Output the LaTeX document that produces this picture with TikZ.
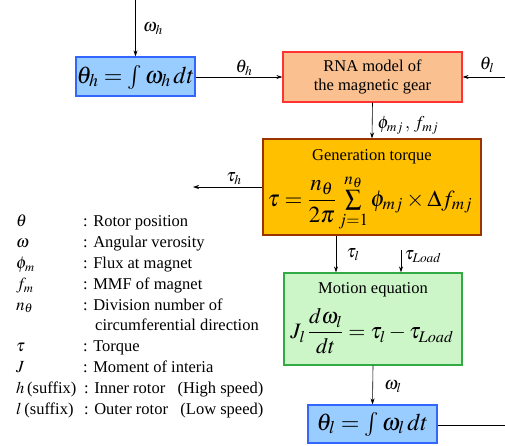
\documentclass[tikz,border=0pt]{standalone}
\usepackage{amsmath}
\usepackage{mathptmx}
\usepackage[no-math]{fontspec}
\setmainfont{Liberation Serif}
\newfontfamily\lserif{Liberation Serif}
\usetikzlibrary{arrows.meta}
\definecolor{bluefill}{HTML}{99CCFF}
\definecolor{blueline}{HTML}{3366FF}
\definecolor{rnafill}{HTML}{FAC090}
\definecolor{rnaline}{HTML}{FF3333}
\definecolor{genfill}{HTML}{FFC000}
\definecolor{genline}{HTML}{993300}
\definecolor{motfill}{HTML}{CCF5C8}
\definecolor{motline}{HTML}{33AA44}
\tikzset{
  box/.style={draw, line width=1.2pt, inner sep=0pt},
  arr/.style={-{Stealth[length=6pt,width=4pt]}, line width=0.6pt},
  plain/.style={line width=0.6pt},
  lbl/.style={inner sep=0pt, font=\fontsize{18}{21}\selectfont},
  txt/.style={inner sep=0pt, font=\lserif\fontsize{16.5}{19}\selectfont, align=center},
  leg/.style={inner sep=0pt, anchor=base west, font=\lserif\fontsize{16.5}{19}\selectfont},
  legm/.style={inner sep=0pt, anchor=base west, font=\lserif\fontsize{17}{19}\selectfont},
}
\begin{document}
\begin{tikzpicture}[x=1pt,y=-1pt]
\useasboundingbox[fill=white] (0,0) rectangle (505,445);
% boxes
\node[box, fill=bluefill, draw=blueline, minimum width=119pt, minimum height=39pt] (blueh) at (135.5,76.5) {};
\node[box, fill=rnafill, draw=rnaline, minimum width=179pt, minimum height=50pt] (rna) at (372.5,77) {};
\node[box, fill=genfill, draw=genline, minimum width=218pt, minimum height=96pt] (gen) at (372,187) {};
\node[box, fill=motfill, draw=motline, minimum width=178pt, minimum height=92pt] (mot) at (373,319) {};
\node[box, fill=bluefill, draw=blueline, minimum width=129pt, minimum height=38pt] (bluel) at (372.5,424) {};
% box contents
\node[inner sep=0pt, font=\fontsize{24}{28}\selectfont] (eqh) at (135.5,77) {$\theta_h = \int \omega_h\,dt$};
\node[txt] (rnatxt) at (372.5,77) {RNA model of\\the magnetic gear};
\node[txt] (gentitle) at (372,157) {Generation torque};
\node[inner sep=0pt, font=\fontsize{23}{27}\selectfont] (geneq) at (370,203) {$\tau = \dfrac{n_\theta}{2\pi}\sum\limits_{j=1}^{n_\theta}\phi_{mj}\times\Delta f_{mj}$};
\node[txt] (mottitle) at (373,290) {Motion equation};
\node[inner sep=0pt, font=\fontsize{22}{26}\selectfont] (moteq) at (372,331) {$J_l\,\dfrac{d\omega_l}{dt} = \tau_l - \tau_{Load}$};
\node[inner sep=0pt, font=\fontsize{24}{28}\selectfont] (eql) at (372.5,424) {$\theta_l = \int \omega_l\,dt$};
% connectors
\coordinate (wtop) at (135.5,0);
\coordinate (thr) at (505,77);
\coordinate (tauhend) at (193,187);
\coordinate (tlx) at (336,0);
\coordinate (tload) at (401,250);
\coordinate (outr) at (505,425);
\draw[arr] (wtop) -- (blueh.north);
\draw[arr] (blueh.east |- rna.west) -- (rna.west);
\draw[arr] (thr) -- (rna.east);
\draw[arr] (rna.south) -- (gen.north);
\draw[arr] (gen.west |- tauhend) -- (tauhend);
\draw[arr] (gen.south -| tlx) -- (mot.north -| tlx);
\draw[arr] (tload) -- (mot.north -| tload);
\draw[arr] (mot.south) -- (bluel.north);
\draw[plain] (bluel.east |- outr) -- (outr);
% labels
\node[lbl] (lwh) at (153,29) {$\omega_h$};
\node[lbl] (lth) at (244,68) {$\theta_h$};
\node[lbl] (ltl) at (487,65) {$\theta_l$};
\node[lbl] (lphi) at (408,125) {$\phi_{mj}\,,\,f_{mj}$};
\node[lbl] (ltauh) at (234,179) {$\tau_h$};
\node[lbl] (ltaul) at (353,255) {$\tau_l$};
\node[lbl] (ltload) at (423,257) {$\tau_{Load}$};
\node[lbl] (lwl) at (393,387) {$\omega_l$};
% legend
\node[legm] (s1) at (16,226.5) {$\theta$};
\node[leg] (d1) at (83,226.5) {: Rotor position};
\node[legm] (s2) at (16,247.5) {$\omega$};
\node[leg] (d2) at (83,247.5) {: Angular verosity};
\node[legm] (s3) at (16,268.5) {$\phi_m$};
\node[leg] (d3) at (83,268.5) {: Flux at magnet};
\node[legm] (s4) at (16,289.5) {$f_m$};
\node[leg] (d4) at (83,289.5) {: MMF of magnet};
\node[legm] (s5) at (16,310) {$n_\theta$};
\node[leg] (d5) at (83,310) {: Division number of};
\node[leg] (d5b) at (95,330.5) {circumferential direction};
\node[legm] (s6) at (16,351.5) {$\tau$};
\node[leg] (d6) at (83,351.5) {: Torque};
\node[legm] (s7) at (16,372.5) {$J$};
\node[leg] (d7) at (83,372.5) {: Moment of interia};
\node[leg] (s8) at (16,393.5) {$h$\,(suffix)};
\node[leg] (d8) at (84,393.5) {: Inner rotor \ \ (High speed)};
\node[leg] (s9) at (16,414.5) {$l$\,(suffix)};
\node[leg] (d9) at (84,414.5) {: Outer rotor \ \ (Low speed)};
\end{tikzpicture}
\end{document}
